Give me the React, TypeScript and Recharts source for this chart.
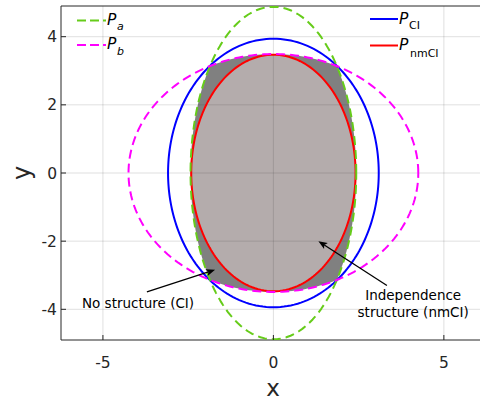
import React from 'react';
import { ComposedChart, Scatter, XAxis, YAxis, ReferenceLine, ReferenceDot } from 'recharts';

// Ellipse parameters (semi-axes, centred at origin)
const seriesNames = ['Pa', 'Pb', 'PCI', 'PnmCI'];
const semiAxisX = [2.43, 4.25, 3.09, 2.41];
const semiAxisY = [4.88, 3.49, 3.94, 3.47];

const xTicks = [-5, 0, 5];
const yTicks = [-4, -2, 0, 2, 4];
const xDomain = [-6.23, 6.06];
const yDomain = [-4.9, 4.9];

const annotationLabels = ['No structure (CI)', 'Independence', 'structure (nmCI)'];
const annotationX = [-3.97, 4.1, 4.1];
const annotationY = [-3.8, -3.57, -4.09];
const arrowTailX = [-3.71, 3.33];
const arrowTailY = [-3.49, -3.3];
const arrowHeadX = [-1.71, 1.32];
const arrowHeadY = [-2.84, -2.0];

const FONT = '"DejaVu Sans", sans-serif';
const AXIS = '#262626';
const GREEN = '#66cc1a';
const MAGENTA = '#ff00ff';
const BLUE = '#0000ff';
const RED = '#ff0000';

const N = 240;
const radius = (ax: number, ay: number, t: number) =>
  1 / Math.sqrt((Math.cos(t) ** 2) / (ax * ax) + (Math.sin(t) ** 2) / (ay * ay));

const ellipseData = (i: number) => {
  const pts = [];
  for (let k = 0; k <= N; k++) {
    const t = (2 * Math.PI * k) / N;
    const r = radius(semiAxisX[i], semiAxisY[i], t);
    pts.push({ x: r * Math.cos(t), y: r * Math.sin(t) });
  }
  return pts;
};

// intersection of Pa and Pb (both star-shaped about the origin)
const intersectionData = (() => {
  const pts = [];
  for (let k = 0; k <= N; k++) {
    const t = (2 * Math.PI * k) / N;
    const r = Math.min(radius(semiAxisX[0], semiAxisY[0], t), radius(semiAxisX[1], semiAxisY[1], t));
    pts.push({ x: r * Math.cos(t), y: r * Math.sin(t) });
  }
  return pts;
})();

const pathOf = (pts: any[], close = true) =>
  pts.map((p, i) => `${i ? 'L' : 'M'}${p.x},${p.y}`).join('') + (close ? 'Z' : '');

const polyLine = (fill: string, stroke: string, width: number, dash?: string, close = true, opacity = 1) => (props: any) => (
  <path
    d={pathOf(props.points || [], close)}
    fill={fill}
    stroke={stroke}
    strokeWidth={width}
    strokeOpacity={opacity}
    strokeDasharray={dash}
    strokeLinejoin="round"
  />
);

const noShape = () => <g />;

const arrowLine = (props: any) => {
  const pts = props.points || [];
  if (pts.length < 2) return <g />;
  const x1 = pts[0].x, y1 = pts[0].y, x2 = pts[1].x, y2 = pts[1].y;
  const dx = x2 - x1;
  const dy = y2 - y1;
  const len = Math.sqrt(dx * dx + dy * dy);
  const ux = dx / len;
  const uy = dy / len;
  const L = 9;
  const W = 3.5;
  const bx = x2 - ux * L;
  const by = y2 - uy * L;
  const back = x2 - ux * (L - 2);
  const backY = y2 - uy * (L - 2);
  return (
    <g>
      <line x1={x1} y1={y1} x2={back} y2={backY} stroke="#000" strokeWidth={1.3} />
      <polygon
        points={`${x2},${y2} ${bx - uy * W},${by + ux * W} ${back},${backY} ${bx + uy * W},${by - ux * W}`}
        fill="#000"
      />
    </g>
  );
};

const textShape = (label: string) => (props: any) => (
  <text
    x={props.cx}
    y={props.cy}
    textAnchor="middle"
    dominantBaseline="central"
    fontFamily={FONT}
    fontSize={13.5}
    fill="#000"
  >
    {label}
  </text>
);

const XTick = (p: any) => (
  <g>
    <line x1={p.x} y1={p.y} x2={p.x} y2={p.y - 5} stroke={AXIS} strokeWidth={1} />
    <text x={p.x} y={p.y + 27.5} textAnchor="middle" fontFamily={FONT} fontSize={15.5} fill={AXIS}>
      {p.payload.value}
    </text>
  </g>
);

const YTick = (p: any) => (
  <g>
    <line x1={p.x + 4} y1={p.y} x2={p.x + 9} y2={p.y} stroke={AXIS} strokeWidth={1} />
    <text x={p.x} y={p.y + 5.5} textAnchor="end" fontFamily={FONT} fontSize={15.5} fill={AXIS}>
      {p.payload.value}
    </text>
  </g>
);

const Legend = () => (
  <svg
    width={480}
    height={402}
    style={{ position: 'absolute', left: 0, top: 0, pointerEvents: 'none' }}
  >
    <g fontFamily={FONT} fill="#000">
      <line x1={77} y1={20.5} x2={106} y2={20.5} stroke={GREEN} strokeWidth={2} strokeDasharray="9 4" />
      <text x={107} y={24.5} fontSize={15.5} fontStyle="italic">P</text>
      <text x={117} y={29.5} fontSize={11} fontStyle="italic">a</text>
      <line x1={77} y1={45} x2={106} y2={45} stroke={MAGENTA} strokeWidth={2} strokeDasharray="9 4" />
      <text x={107} y={49} fontSize={15.5} fontStyle="italic">P</text>
      <text x={117} y={55} fontSize={11} fontStyle="italic">b</text>

      <line x1={370} y1={19} x2={398} y2={19} stroke={BLUE} strokeWidth={2} />
      <text x={399} y={23.5} fontSize={15.5} fontStyle="italic">P</text>
      <text x={409} y={29} fontSize={11}>CI</text>
      <line x1={370} y1={45.5} x2={398} y2={45.5} stroke={RED} strokeWidth={2} />
      <text x={399} y={49.5} fontSize={15.5} fontStyle="italic">P</text>
      <text x={410} y={56.5} fontSize={11}>nmCI</text>

      <text x={273} y={396} fontSize={23} textAnchor="middle" fill={AXIS}>x</text>
      <text x={30} y={173} fontSize={24} textAnchor="middle" fill={AXIS} transform="rotate(-90 30 173)">y</text>
    </g>
  </svg>
);

export default function App() {
  return (
    <div style={{ position: 'fixed', left: 0, top: 0, width: 480, height: 402, overflow: 'hidden', background: '#fff' }}>
      <ComposedChart width={480} height={402} margin={{ top: 6, right: 0, bottom: 0, left: 0 }}>
        <XAxis
          type="number"
          dataKey="x"
          domain={xDomain}
          ticks={xTicks}
          allowDataOverflow
          height={62}
          tickSize={0}
          tickMargin={0}
          tickLine={false}
          axisLine={{ stroke: AXIS, strokeWidth: 1 }}
          tick={XTick}
          interval={0}
        />
        <YAxis
          type="number"
          dataKey="y"
          domain={yDomain}
          ticks={yTicks}
          allowDataOverflow
          width={61}
          tickSize={0}
          tickMargin={4}
          tickLine={false}
          axisLine={{ stroke: AXIS, strokeWidth: 1 }}
          tick={YTick}
          interval={0}
        />
        <ReferenceLine y={yDomain[1]} stroke={AXIS} strokeWidth={1} />
        <Scatter
          name="intersection"
          data={intersectionData}
          line={polyLine('#808080', 'none', 0)}
          lineType="joint"
          shape={noShape}
          isAnimationActive={false}
        />
        <Scatter
          name="nmCI fill"
          data={ellipseData(3)}
          line={polyLine('#b4acac', 'none', 0)}
          lineType="joint"
          shape={noShape}
          isAnimationActive={false}
        />
        {xTicks.map((t) => (
          <Scatter
            key={'gx' + t}
            data={[{ x: t, y: yDomain[0] }, { x: t, y: yDomain[1] }]}
            line={polyLine('none', AXIS, 1, undefined, false, 0.14)}
            lineType="joint"
            shape={noShape}
            isAnimationActive={false}
          />
        ))}
        {yTicks.map((t) => (
          <Scatter
            key={'gy' + t}
            data={[{ x: xDomain[0], y: t }, { x: xDomain[1], y: t }]}
            line={polyLine('none', AXIS, 1, undefined, false, 0.14)}
            lineType="joint"
            shape={noShape}
            isAnimationActive={false}
          />
        ))}
        <Scatter
          name={seriesNames[2]}
          data={ellipseData(2)}
          line={polyLine('none', BLUE, 2)}
          lineType="joint"
          shape={noShape}
          isAnimationActive={false}
        />
        <Scatter
          name={seriesNames[3]}
          data={ellipseData(3)}
          line={polyLine('none', RED, 2)}
          lineType="joint"
          shape={noShape}
          isAnimationActive={false}
        />
        <Scatter
          name={seriesNames[0]}
          data={ellipseData(0)}
          line={polyLine('none', GREEN, 2, '9 5')}
          lineType="joint"
          shape={noShape}
          isAnimationActive={false}
        />
        <Scatter
          name={seriesNames[1]}
          data={ellipseData(1)}
          line={polyLine('none', MAGENTA, 2, '9 5')}
          lineType="joint"
          shape={noShape}
          isAnimationActive={false}
        />
        {arrowTailX.map((_, i) => (
          <Scatter
            key={'arrow' + i}
            data={[
              { x: arrowTailX[i], y: arrowTailY[i] },
              { x: arrowHeadX[i], y: arrowHeadY[i] },
            ]}
            line={arrowLine}
            lineType="joint"
            shape={noShape}
            isAnimationActive={false}
          />
        ))}
        {annotationLabels.map((label, i) => (
          <ReferenceDot
            key={'txt' + i}
            x={annotationX[i]}
            y={annotationY[i]}
            r={0}
            shape={textShape(label)}
          />
        ))}
      </ComposedChart>
      <Legend />
    </div>
  );
}
